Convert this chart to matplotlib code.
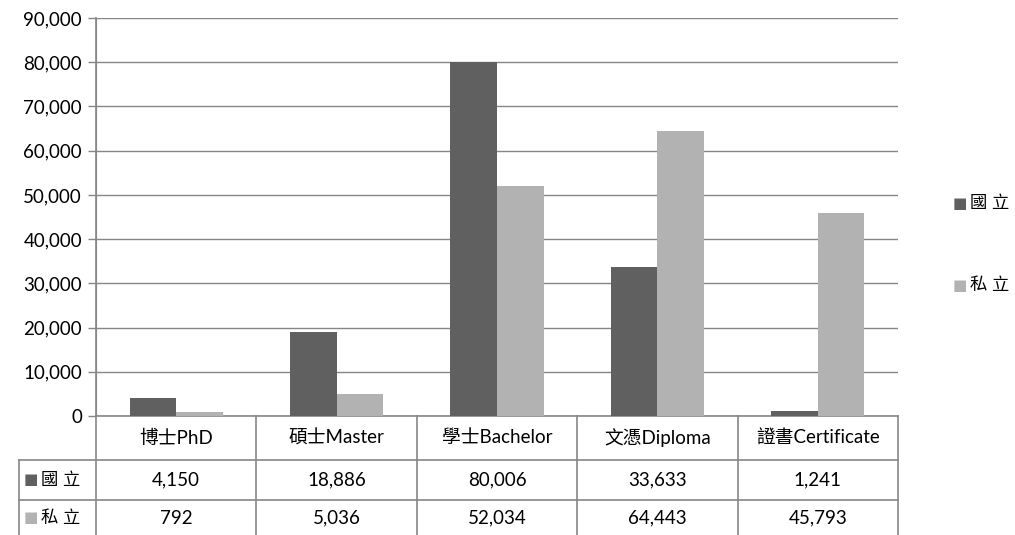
import matplotlib
matplotlib.use("Agg")
import matplotlib.pyplot as plt
import numpy as np

# data
categories = ["博士PhD", "碩士Master", "學士Bachelor", "文憑Diploma", "證書Certificate"]
series_names = ["國立", "私立"]
public_vals = [4150, 18886, 80006, 33633, 1241]
private_vals = [792, 5036, 52034, 64443, 45793]

dark = "#606060"
light = "#b2b2b2"
linec = "#868686"

plt.rcParams['font.family'] = ['Lato', 'Noto Sans CJK TC', 'DejaVu Sans']

W, H = 1015, 535
fig = plt.figure(figsize=(W / 100, H / 100), dpi=100)
L, R, T, B = 96, 898, 18, 416
ax = fig.add_axes([L / W, (H - B) / H, (R - L) / W, (B - T) / H])

x = np.arange(len(categories))
bw = 0.29
ax.bar(x - bw / 2, public_vals, bw, color=dark, zorder=3)
ax.bar(x + bw / 2, private_vals, bw, color=light, zorder=3)

ax.set_xlim(-0.5, len(categories) - 0.5)
ax.set_ylim(0, 90000)
ax.set_yticks(np.arange(0, 90001, 10000))
ax.set_yticklabels([f"{v:,}" for v in range(0, 90001, 10000)], fontsize=13.5)
ax.set_xticks([])
ax.yaxis.grid(True, color=linec, linewidth=1, zorder=0)
ax.tick_params(axis='y', length=6, color=linec, width=1, pad=4)
for s in ["top", "right", "bottom"]:
    ax.spines[s].set_visible(False)
ax.spines["left"].set_color(linec)

# data table under the axes (axes coords)
axh = B - T
axw = R - L
def yax(py):
    return (B - py) / axh
def xax(px):
    return (px - L) / axw

tr = ax.transAxes
lk = dict(color=linec, linewidth=1.2, transform=tr, clip_on=False)
y_hdr, y_r1, y_r2 = yax(460), yax(500), yax(H + 2)
ax.plot([0, 0], [1, y_r2], **lk)
ax.plot([1, 1], [0, y_r2], **lk)
ax.plot([0, 1], [0, 0], **lk)
for k in range(1, len(categories)):
    ax.plot([k / 5, k / 5], [0, y_r2], **lk)
ax.plot([xax(19), 1], [y_hdr, y_hdr], **lk)
ax.plot([xax(19), 1], [y_r1, y_r1], **lk)
ax.plot([xax(19), xax(19)], [y_hdr, y_r2], **lk)

fs = 13.5
for k, c in enumerate(categories):
    ax.text((k + 0.5) / 5, yax(438), c, transform=tr, ha='center', va='center', fontsize=fs)
    ax.text((k + 0.5) / 5, yax(480), f"{public_vals[k]:,}", transform=tr, ha='center', va='center', fontsize=fs)
    ax.text((k + 0.5) / 5, yax(518), f"{private_vals[k]:,}", transform=tr, ha='center', va='center', fontsize=fs)

for name, col, py in [(series_names[0], dark, 480), (series_names[1], light, 518)]:
    ax.text(xax(24), yax(py), "■", transform=tr, ha='left', va='center', color=col, fontsize=11,
            family=['DejaVu Sans'])
    ax.text(xax(41), yax(py), " ".join(name), transform=tr, ha='left', va='center', fontsize=12.5)

# legend
for name, col, py in [(series_names[0], dark, 203), (series_names[1], light, 285)]:
    fig.text(953 / W, 1 - py / H, "■", ha='left', va='center', color=col, fontsize=11, family=['DejaVu Sans'])
    fig.text(970 / W, 1 - py / H, " ".join(name), ha='left', va='center', fontsize=12.5)

fig.savefig("out.png", dpi=100)
